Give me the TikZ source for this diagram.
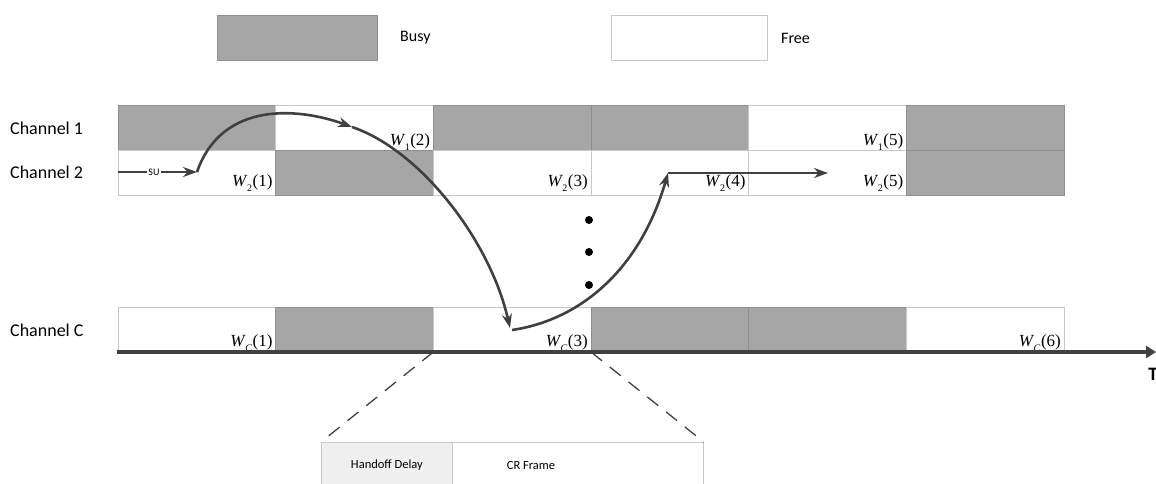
\documentclass[tikz,border=0pt]{standalone}
\usepackage{fontspec}
\setmainfont{Carlito}
\newfontfamily\tms{Liberation Serif}
\usetikzlibrary{arrows.meta,calc}
\definecolor{busyc}{HTML}{A6A6A6}
\definecolor{busyb}{HTML}{8E8E8E}
\definecolor{freeb}{HTML}{C8C8C8}
\definecolor{arrc}{HTML}{404040}
\definecolor{hdfill}{HTML}{F0F0F0}
\newcommand\wsub[2]{{\tms\textit{W}\kern-0.5pt\raisebox{-0.3em}{\fontsize{10}{10}\selectfont#1}\kern0.5pt(#2)}}
\begin{document}
\begin{tikzpicture}[x=1pt,y=-1pt,
  cellB/.style={draw=busyb, fill=busyc, line width=0.8pt, minimum width=157.67pt, minimum height=45pt, inner sep=0pt, outer sep=0pt, anchor=north west},
  cellF/.style={draw=freeb, fill=white, line width=0.8pt, minimum width=157.67pt, minimum height=45pt, inner sep=0pt, outer sep=0pt, anchor=north west},
  chlab/.style={font=\fontsize{18}{20}\selectfont, anchor=west, inner sep=0pt},
  leglab/.style={font=\fontsize{16}{18}\selectfont, anchor=west, inner sep=0pt},
  wlab/.style={font=\fontsize{17}{19}\selectfont, anchor=base east, inner sep=0pt},
  flowline/.style={draw=arrc, line width=2.6pt},
  flow/.style={flowline, -{Stealth[length=14pt,width=10pt]}},
  zoomln/.style={draw=arrc, line width=1.3pt, dash pattern=on 14pt off 10pt},
  dot/.style={circle, fill=black, minimum size=8pt, inner sep=0pt},
  smalltext/.style={font=\fontsize{12.5}{14}\selectfont, inner sep=0pt}
]
\clip (0,0) rectangle (1156,483);
% legend
\node[cellB, minimum width=160pt] (lb) at (217,15) {};
\node[leglab] (lbt) at (400,38) {Busy};
\node[cellF, minimum width=156pt] (lf) at (611,15) {};
\node[leglab] (lft) at (781,38) {Free};
% channel labels
\node[chlab] (l1) at (10,128) {Channel 1};
\node[chlab] (l2) at (10,172) {Channel 2};
\node[chlab] (lc) at (10,330) {Channel C};
% cells
\foreach \p [count=\i] in {B,F,B,B,F,B}
  \node[cell\p] (a\i) at ({118+(\i-1)*157.67},105) {};
\foreach \p [count=\i] in {F,B,F,F,F,B}
  \node[cell\p] (b\i) at ({118+(\i-1)*157.67},150) {};
\foreach \p [count=\i] in {F,B,F,B,B,F}
  \node[cell\p] (c\i) at ({118+(\i-1)*157.67},307) {};
% W labels
\node[wlab] (w12) at ($(a2.south east)+(-3,-5)$) {\wsub{1}{2}};
\node[wlab] (w15) at ($(a5.south east)+(-3,-5)$) {\wsub{1}{5}};
\node[wlab] (w21) at ($(b1.south east)+(-3,-9)$) {\wsub{2}{1}};
\node[wlab] (w23) at ($(b3.south east)+(-3,-9)$) {\wsub{2}{3}};
\node[wlab] (w24) at ($(b4.south east)+(-3,-9)$) {\wsub{2}{4}};
\node[wlab] (w25) at ($(b5.south east)+(-3,-9)$) {\wsub{2}{5}};
\node[wlab] (wc1) at ($(c1.south east)+(-3,-6)$) {\wsub{\textit{C}}{1}};
\node[wlab] (wc3) at ($(c3.south east)+(-3,-6)$) {\wsub{\textit{C}}{3}};
\node[wlab] (wc6) at ($(c6.south east)+(-3,-6)$) {\wsub{\textit{C}}{6}};
% time axis
\coordinate (ax0) at (117,352);
\coordinate (ax1) at (1156,352);
\draw[draw=arrc, line width=4.5pt, -{Triangle[length=10pt,width=12pt]}] (ax0) -- (ax1);
\node[font=\bfseries\fontsize{19}{21}\selectfont, inner sep=0pt] (T) at (1153,374) {T};
% dots
\node[dot] (d1) at (589,220) {};
\node[dot] (d2) at (589,252) {};
\node[dot] (d3) at (589,285) {};
% SU flow
\coordinate (s0) at (118,172);
\node[font=\fontsize{10}{11}\selectfont, fill=white, inner sep=1.5pt] (su) at (154,172) {SU};
\coordinate (s1) at (197,172);
\coordinate (s2) at (352,127);
\coordinate (s3) at (510,328);
\coordinate (s4) at (512,330);
\coordinate (s5) at (668,173);
\coordinate (s6) at (828,173);
\draw[flowline] (s0) -- (su);
\draw[flow] (su) -- (s1);
\draw[flow] (s1) .. controls (222,100) and (300,108) .. (s2);
\draw[flow] (s2) .. controls (420,150) and (490,240) .. (s3);
\draw[flow] (s4) .. controls (580,320) and (640,270) .. (s5);
\draw[flow] (s5) -- (s6);
% zoomed frame
\node[draw=freeb, fill=hdfill, line width=0.8pt, minimum width=131pt, minimum height=46pt, inner sep=0pt, anchor=north west, font=\fontsize{12.5}{14}\selectfont] (hd) at (321,442) {Handoff Delay};
\node[draw=freeb, fill=white, line width=0.8pt, minimum width=251pt, minimum height=46pt, inner sep=0pt, anchor=north west] (cr) at (452,442) {};
\node[smalltext] (crt) at (531,465) {CR Frame};
\draw[zoomln] (c3.south west) -- (hd.north west);
\draw[zoomln] (c3.south east) -- (cr.north east);
\end{tikzpicture}
\end{document}
